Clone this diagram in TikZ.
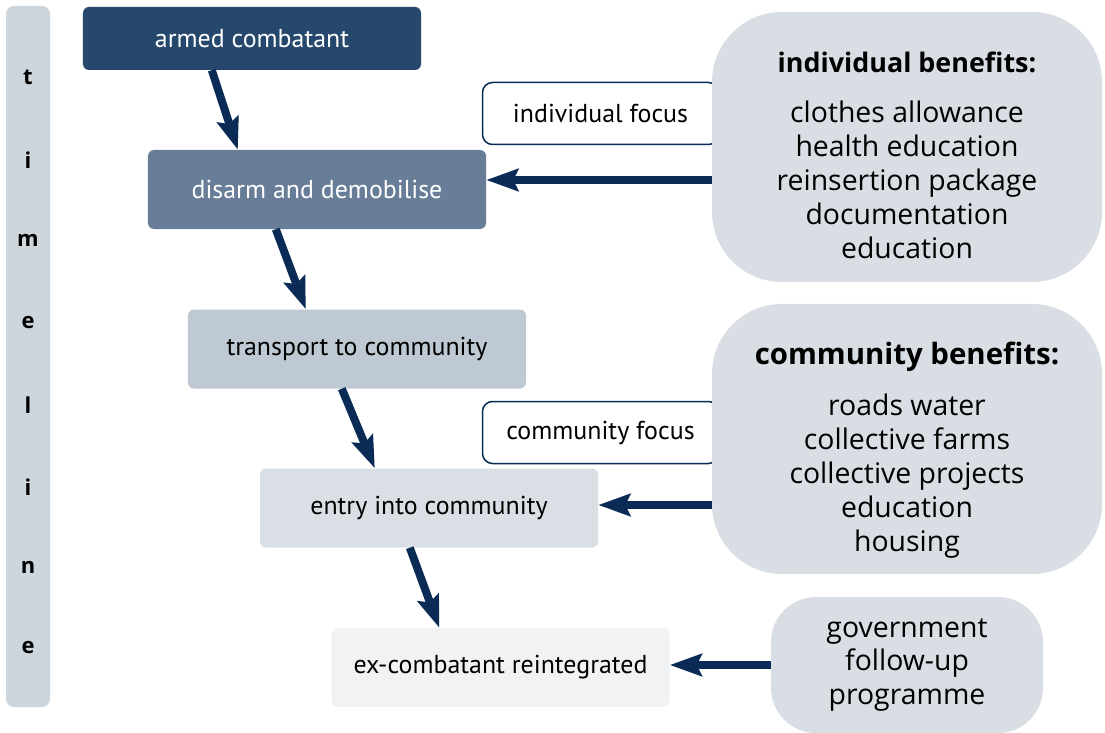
\documentclass[tikz,border=0pt]{standalone}
\usepackage{fontspec}
\setmainfont{Open Sans}
\newfontfamily\boxfont{PT Sans}
\usetikzlibrary{arrows.meta}
\definecolor{navy}{HTML}{0A2B55}
\definecolor{stufeeins}{HTML}{27486D}
\definecolor{stufezwei}{HTML}{687D97}
\definecolor{stufedrei}{HTML}{BFC9D3}
\definecolor{stufevier}{HTML}{DADFE5}
\definecolor{stufefuenf}{HTML}{F1F2F4}
\definecolor{leiste}{HTML}{CDD5DD}
\definecolor{wolke}{HTML}{D9DEE4}
\def\b{338}
\def\hh{79}
\tikzset{
	stufe/.style={rounded corners=6bp,minimum width=\b bp,minimum height=\hh bp,
		inner sep=0pt,font=\boxfont\fontsize{26}{30}\selectfont},
	fokus/.style={draw=navy,line width=1.5bp,fill=white,rounded corners=10bp,
		minimum width=236bp,minimum height=62bp,inner sep=0pt,
		font=\boxfont\fontsize{26}{30}\selectfont},
	vorteil/.style={fill=wolke,rounded corners=70bp,minimum width=390bp,
		minimum height=270bp,inner sep=0pt,align=center,
		font=\fontsize{28.5}{34}\selectfont},
	fluss/.style={draw=navy,line width=8bp,-{Stealth[length=32bp,width=22bp,inset=5bp]}}
}
\begin{document}
\begin{tikzpicture}[x=1bp,y=-1bp]
\useasboundingbox (0,0) rectangle (1105,733);
\fill[color=leiste,rounded corners=8bp] (6,6) rectangle (50,707);
\foreach \y/\l [count=\i] in {77/t,160/i,240/m,323/e,405/l,487/i,567/n,648/e}{
	\node[font=\bfseries\fontsize{22}{26}\selectfont] (tl\i) at (28,\y) {\l};
}
\node[stufe,fill=stufeeins,text=white,minimum height=63bp] (armed) at (252,38.5) {armed combatant};
\node[stufe,fill=stufezwei,text=white] (disarm) at (317,189.5) {disarm and demobilise};
\node[stufe,fill=stufedrei] (transport) at (357,349) {transport to community};
\node[stufe,fill=stufevier] (entry) at (429,508) {entry into community};
\node[stufe,fill=stufefuenf] (reint) at (500.5,667.5) {ex-combatant reintegrated};

\node[fokus] (indfokus) at (600.5,113.5) {individual focus};
\node[fokus] (comfokus) at (600.5,432.5) {community focus};

\node[vorteil] (indvort) at (907,147) {%
	\rule{0pt}{37bp}{\bfseries\fontsize{27}{34}\selectfont individual benefits:}\\[16bp]
	clothes allowance\\ health education\\ reinsertion package\\
	documentation\\ education};
\node[vorteil] (comvort) at (907,439) {%
	\rule{0pt}{45bp}{\bfseries\fontsize{29.5}{34}\selectfont community benefits:}\\[17bp]
	roads water\\ collective farms\\ collective projects\\
	education\\ housing};
\node[vorteil,rounded corners=45bp,minimum width=272bp,minimum height=136bp]
	(gov) at (907,665) {government\\ follow-up\\ programme};

\draw[fluss] ([xshift=129bp]armed.south west) -- ([xshift=90bp]disarm.north west);
\draw[fluss] ([xshift=128bp]disarm.south west) -- ([xshift=118bp]transport.north west);
\draw[fluss] ([xshift=154bp]transport.south west) -- ([xshift=115bp]entry.north west);
\draw[fluss] ([xshift=150bp]entry.south west) -- ([xshift=108bp]reint.north west);

\path ([yshift=9.5bp]disarm.east) coordinate (inA);
\path ([yshift=3bp]entry.east) coordinate (inB);
\draw[fluss] (inA -| indvort.west) -- (inA);
\draw[fluss] (inB -| comvort.west) -- (inB);
\draw[fluss] (gov.west) -- (gov.west -| reint.east);
\end{tikzpicture}
\end{document}
